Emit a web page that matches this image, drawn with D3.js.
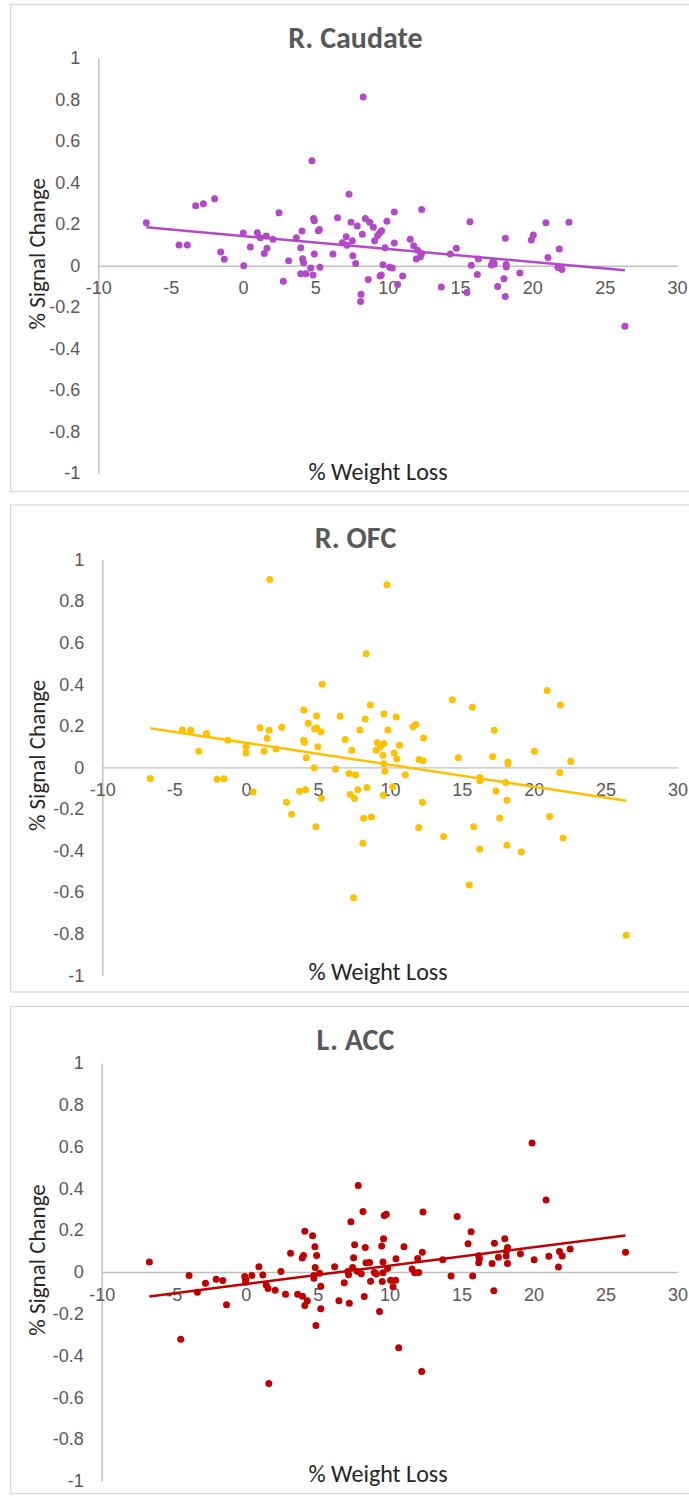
<!DOCTYPE html>
<html>
<head>
<meta charset="utf-8">
<script src="https://cdn.jsdelivr.net/npm/d3@7"></script>
<style>
  body { margin: 0; background: #fff; }
  svg { display: block; font-family: Carlito, Lato, "Open Sans", sans-serif; }
</style>
</head>
<body>
<div id="chart"></div>
<script>
// subjects' % weight loss and % signal change, one pair of arrays per ROI
const caudateX = [-6.68,-4.42,-3.85,-3.27,-2.74,-1.96,-1.54,-1.29,0.02,0.05,0.51,0.99,1.2,1.47,1.66,1.61,2.07,2.49,2.79,3.16,3.69,3.99,4.08,4.12,4.19,3.99,4.35,4.68,4.84,4.77,4.88,4.93,4.93,5.21,5.28,5.32,6.22,6.54,6.87,7.14,7.19,7.33,7.47,7.56,7.6,7.79,7.9,8.25,8.31,8.46,8.66,8.76,9.01,9.1,9.31,9.45,9.59,8.16,8.13,9.68,9.56,9.47,9.82,9.95,10.14,10.32,10.46,10.46,10.69,11.04,11.56,11.8,11.98,12.07,12.26,12.35,12.35,13.71,14.33,14.75,15.48,15.69,15.78,16.2,16.27,17.17,17.3,17.37,17.6,18.04,18.13,18.2,18.2,18.13,19.14,19.93,20.07,20.94,21.08,21.86,21.77,21.93,22.05,22.53,26.4];
const caudateY = [0.207,0.10,0.10,0.289,0.299,0.323,0.066,0.031,0.157,0.0,0.09,0.159,0.135,0.059,0.084,0.143,0.127,0.255,-0.075,0.024,0.135,0.087,0.167,0.034,0.014,-0.039,-0.039,-0.011,-0.045,0.506,0.227,0.217,0.056,0.169,0.175,-0.008,0.056,0.231,0.111,0.14,0.098,0.344,0.21,0.12,0.048,0.011,0.191,0.151,0.813,0.228,-0.066,0.21,0.185,0.12,0.145,0.159,0.169,-0.138,-0.173,0.005,-0.045,-0.05,0.087,0.214,-0.008,-0.011,0.259,0.109,-0.09,-0.05,0.127,0.096,0.032,0.075,0.043,0.059,0.271,-0.103,0.056,0.084,-0.129,0.212,0.002,-0.042,0.032,0.003,0.021,0.008,-0.1,-0.063,0.132,0.006,-0.006,-0.148,-0.035,0.124,0.148,0.207,0.039,0.08,-0.008,-0.011,-0.018,0.21,-0.292];

const ofcX = [-6.66,-4.43,-3.85,-3.29,-2.76,-2.02,-1.55,-1.28,0,0,0.49,0.97,1.25,1.46,1.6,1.65,2.09,2.48,2.81,3.16,3.71,4.01,4.01,4.06,4.13,4.18,4.32,4.73,4.76,4.85,4.9,4.9,4.99,5.2,5.24,5.29,6.22,6.54,6.89,7.15,7.24,7.35,7.47,7.54,7.61,7.77,7.91,8.12,8.17,8.28,8.35,8.4,8.63,8.72,9.03,9.12,9.35,9.51,9.54,9.58,9.58,9.58,9.65,9.79,9.86,10.19,10.3,10.44,10.49,10.67,11.07,11.6,11.79,12.0,12.02,12.27,12.3,12.34,13.74,14.34,14.76,15.52,15.73,15.82,16.24,16.26,16.26,17.15,17.26,17.38,17.63,18.05,18.14,18.14,18.21,18.21,19.14,20.05,20.93,21.11,21.81,21.86,22.04,22.58,26.43];
const ofcY = [-0.053,0.18,0.179,0.078,0.163,-0.057,-0.054,0.131,0.099,0.069,-0.118,0.191,0.078,0.14,0.179,0.904,0.089,0.193,-0.168,-0.225,-0.115,0.276,0.131,0.121,-0.107,0.046,0.212,-0.002,0.185,-0.286,0.247,0.191,0.099,0.171,-0.148,0.40,-0.008,0.246,0.134,-0.029,-0.13,0.083,-0.627,-0.15,-0.035,-0.107,0.18,-0.365,-0.244,0.233,0.547,-0.097,0.30,-0.239,0.083,0.12,0.099,0.059,-0.134,0.115,0.257,0.018,-0.018,0.879,0.18,-0.093,0.069,0.242,0.04,0.107,-0.035,0.195,0.206,-0.289,0.038,-0.168,0.032,0.142,-0.332,0.325,0.046,-0.566,0.289,-0.286,-0.393,-0.049,-0.064,0.053,0.179,-0.113,-0.243,-0.073,-0.158,-0.375,0.026,0.018,-0.407,0.078,0.37,-0.236,-0.024,0.30,-0.34,0.029,-0.807];

const accX = [-6.69,-4.51,-3.93,-3.35,-2.79,-2.05,-1.59,-1.33,-0.06,0,0,0.43,0.92,1.19,1.43,1.56,1.61,2.05,2.45,2.77,3.12,3.61,3.93,4.02,4.11,3.95,4.11,4.28,4.65,4.81,4.93,4.83,4.74,4.74,5.13,5.22,5.22,4.88,6.18,6.48,6.85,7.2,7.1,7.15,7.31,7.43,7.5,7.57,7.82,7.75,8.03,8.15,8.24,8.31,8.36,8.61,8.68,8.94,9.08,9.3,9.45,9.49,9.58,9.54,9.54,9.63,9.77,9.86,10.07,10.42,10.24,10.44,10.63,11.0,11.56,11.74,12.02,11.95,12.27,12.32,12.23,13.69,14.27,14.69,15.45,15.66,15.77,16.19,16.19,16.24,17.12,17.24,17.28,17.56,18.0,18.1,18.19,18.19,18.12,19.09,19.9,20.04,20.87,21.06,21.73,21.8,21.99,22.54,26.39];
const accY = [0.048,-0.322,-0.017,-0.097,-0.054,-0.035,-0.041,-0.157,-0.022,-0.035,-0.049,-0.017,0.025,-0.014,-0.062,-0.079,-0.533,-0.087,0.002,-0.106,0.09,-0.106,0.067,0.079,0.195,-0.116,-0.16,-0.138,0.173,0.121,0.079,0.021,-0.017,-0.03,-0.006,-0.068,-0.176,-0.256,0.025,-0.137,-0.052,-0.149,0.002,-0.013,0.241,0.022,0.068,0.13,0.414,0.003,-0.008,0.289,-0.117,0.117,0.044,0.046,-0.044,-0.002,-0.01,-0.189,0.124,-0.046,0.159,0.048,-0.003,0.27,0.276,0.017,-0.04,-0.04,-0.07,0.063,-0.363,0.121,0.014,-0.003,-0.002,0.065,0.094,0.287,-0.476,0.059,-0.019,0.265,0.135,0.192,-0.019,0.078,0.044,0.065,0.041,-0.09,0.137,0.071,0.159,0.076,0.117,0.041,0.1,0.087,0.617,0.059,0.344,0.075,0.024,0.098,0.076,0.11,0.094];

// linear trendline, y read at the first and last subject
const caudateTrend = [0.185, -0.022];
const ofcTrend = [0.188, -0.160];
const accTrend = [-0.117, 0.175];

const titles = ["R. Caudate", "R. OFC", "L. ACC"];
const xTicks = [-10, -5, 0, 5, 10, 15, 20, 25, 30];
const yTicks = [1, 0.8, 0.6, 0.4, 0.2, 0, -0.2, -0.4, -0.6, -0.8, -1];
const xTitle = "% Weight Loss";
const yTitle = "% Signal Change";

var panels = [
  { title: titles[0], xs: caudateX, ys: caudateY, trend: caudateTrend, color: "#B349C9",
    top: 4.5, left: 98.3, right: 677, yTop: 58.2, yBot: 473.2 },
  { title: titles[1], xs: ofcX, ys: ofcY, trend: ofcTrend, color: "#FFC000",
    top: 505, left: 102.3, right: 677.5, yTop: 559.5, yBot: 975.3 },
  { title: titles[2], xs: accX, ys: accY, trend: accTrend, color: "#C00000",
    top: 1006.5, left: 101.7, right: 677.5, yTop: 1063, yBot: 1481 }
];

var outerWidth = 689, outerHeight = 1496;
var textGray = "#595959";
// Excel writes negatives with a plain hyphen
var plainFormat = function (d) { return String(d); };

var svg = d3.select("#chart")
  .append("svg")
  .attr("width", outerWidth)
  .attr("height", outerHeight);

panels.forEach(function (p) { createGraph(p); });

function createGraph(p) {
  let x = d3.scaleLinear().domain([-10, 30]).range([p.left, p.right]);
  let y = d3.scaleLinear().domain([-1, 1]).range([p.yBot, p.yTop]);
  let g = svg.append("g");

  // chart area frame
  g.append("rect")
    .attr("x", 10.7)
    .attr("y", p.top)
    .attr("width", 700)
    .attr("height", 487)
    .attr("fill", "none")
    .attr("stroke", "#D9D9D9")
    .attr("stroke-width", 1.3);

  g.append("text")
    .attr("x", 355.5)
    .attr("y", p.top + 43)
    .attr("text-anchor", "middle")
    .attr("font-size", 30)
    .attr("font-weight", "bold")
    .attr("fill", textGray)
    .text(p.title);

  // y axis: line on x = -10, labels to its left
  let yAxis = d3.axisLeft(y).tickValues(yTicks).tickSize(0).tickPadding(18)
    .tickFormat(plainFormat);
  g.append("g")
    .attr("transform", "translate(" + x(-10) + ",0)")
    .call(yAxis)
    .call(function (a) {
      a.select(".domain").attr("stroke", "#BFBFBF").attr("stroke-width", 1.4);
      a.selectAll("text").attr("fill", textGray).attr("font-size", 18)
        .attr("font-family", null);
    });

  // x axis crosses at 0, labels just below
  let xAxis = d3.axisBottom(x).tickValues(xTicks).tickSize(0).tickPadding(16)
    .tickFormat(plainFormat);
  g.append("g")
    .attr("transform", "translate(0," + y(0) + ")")
    .call(xAxis)
    .call(function (a) {
      a.select(".domain").attr("stroke", "#BFBFBF").attr("stroke-width", 1.4);
      a.selectAll("text").attr("fill", textGray).attr("font-size", 18)
        .attr("font-family", null);
    });

  g.append("text")
    .attr("transform", "translate(37," + (y(0) - 12) + ") rotate(-90)")
    .attr("text-anchor", "middle")
    .attr("dominant-baseline", "central")
    .attr("font-size", 23)
    .attr("fill", "#262626")
    .text(yTitle);

  g.append("text")
    .attr("x", 378)
    .attr("y", p.top + 475)
    .attr("text-anchor", "middle")
    .attr("font-size", 24)
    .attr("fill", "#262626")
    .text(xTitle);

  let pts = p.xs.map(function (v, i) { return { x: v, y: p.ys[i] }; });
  let xMin = d3.min(p.xs), xMax = d3.max(p.xs);

  g.append("line")
    .attr("x1", x(xMin)).attr("y1", y(p.trend[0]))
    .attr("x2", x(xMax)).attr("y2", y(p.trend[1]))
    .attr("stroke", p.color)
    .attr("stroke-width", 2.5);

  g.selectAll(".dot")
    .data(pts)
    .enter().append("circle")
    .attr("class", "dot")
    .attr("cx", function (d) { return x(d.x); })
    .attr("cy", function (d) { return y(d.y); })
    .attr("r", 3.5)
    .attr("fill", p.color);
}
</script>
</body>
</html>
